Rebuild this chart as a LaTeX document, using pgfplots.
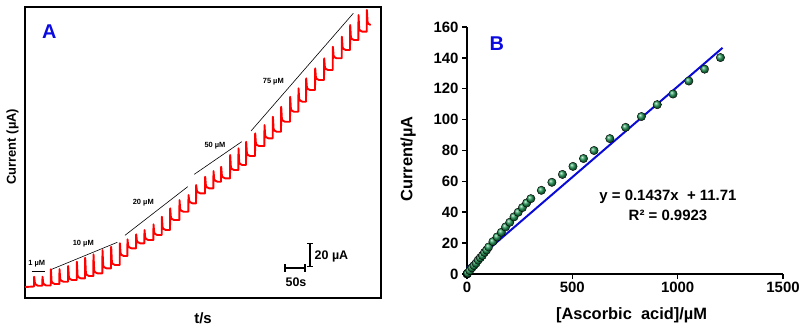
\documentclass[border=0pt]{standalone}
\usepackage{fontspec}
\setmainfont{Liberation Sans}
\usepackage{pgfplots}
\pgfplotsset{compat=1.18}
\definecolor{dotgreen}{RGB}{35,150,85}
\definecolor{fitblue}{RGB}{10,10,215}
\definecolor{labblue}{RGB}{10,10,225}
\begin{document}
\begin{tikzpicture}
\useasboundingbox (0,0) rectangle (802bp,332bp);
% ---------------- Panel A ----------------
\begin{axis}[
  at={(25bp,34.3bp)}, anchor=south west, scale only axis,
  width=356bp, height=291bp,
  xmin=25, xmax=381, ymin=6.7, ymax=297.7, y dir=reverse,
  xtick=\empty, ytick=\empty,
  axis line style={line width=2bp},
  clip=false,
  xlabel={t/s}, ylabel={Current (µA)},
  xlabel style={at={(axis description cs:0.5,-0.07)}, anchor=center, font=\bfseries\fontsize{15}{18}\selectfont},
  ylabel style={at={(axis description cs:-0.035,0.519)}, anchor=center, rotate=0, font=\bfseries\fontsize{13}{15}\selectfont},
]
\addplot[red, line width=1.9bp, line join=round] table {
25 287
33.8 286.5
34 286.5
34.2 276.7
34.9 283.2
36 284.7
38 285.7
42.3 285.7
42.5 276.7
43.2 283
44.3 284.5
46.3 285.5
50.7 285.5
50.9 269.3
51.6 281.5
52.7 283
54.7 284
59.3 284
59.5 269
60.2 279.2
61.3 280.7
63.3 281.7
68 281.7
68.2 266
68.9 277.5
70 279
72 280
76.7 280
76.9 261.7
77.6 275.8
78.7 277.3
80.7 278.3
85 278.3
85.2 257.7
85.9 273.5
87 275
89 276
93.3 276
93.5 254.3
94.2 270.8
95.3 272.3
97.3 273.3
102.3 273.3
102.5 250
103.2 265.8
104.3 267.3
106.3 268.3
111 268.3
111.2 246.7
111.9 262.5
113 264
115 265
119.7 265
119.9 243.3
120.6 253.5
121.7 255
123.7 256
127.3 256
127.5 239.3
128.2 245.8
129.3 247.3
131.3 248.3
136 248.3
136.2 234.3
136.9 240.8
138 242.3
140 243.3
144.3 243.3
144.5 230
145.2 237.5
146.3 239
148.3 240
153.3 240
153.5 224.3
154.2 232.5
155.3 234
157.3 235
161.7 235
161.9 216.7
162.6 227.5
163.7 229
165.7 230
170 230
170.2 208.3
170.9 217.5
172 219
174 220
179.3 220
179.5 200
180.2 209.2
181.3 210.7
183.3 211.7
188.3 211.7
188.5 195
189.2 200.8
190.3 202.3
192.3 203.3
196 203.3
196.2 185
196.9 190.8
198 192.3
200 193.3
205 193.3
205.2 176.7
205.9 185.8
207 187.3
209 188.3
213.3 188.3
213.5 171
214.2 179.2
215.3 180.7
217.3 181.7
221 181.7
221.2 166.7
221.9 175.8
223 177.3
225 178.3
230 178.3
230.2 155
230.9 167.5
232 169
234 170
238.3 170
238.5 148.3
239.2 162.5
240.3 164
242.3 165
246 165
246.2 141.7
246.9 153.5
248 155
250 156
255 156
255.2 133.3
255.9 143.5
257 145
259 146
264.3 146
264.5 125
265.2 135.8
266.3 137.3
268.3 138.3
272.7 138.3
272.9 116.7
273.6 129.2
274.7 130.7
276.7 131.7
281 131.7
281.2 106.7
281.9 119.2
283 120.7
285 121.7
290 121.7
290.2 96.7
290.9 109.2
292 110.7
294 111.7
298.3 111.7
298.5 88.3
299.2 99.2
300.3 100.7
302.3 101.7
306 101.7
306.2 78.3
306.9 87.5
308 89
310 90
315 90
315.2 68.3
315.9 77.5
317 79
319 80
324 80
324.2 58.3
324.9 67.5
326 69
328 70
332.7 70
332.9 46.7
333.6 55.8
334.7 57.3
336.7 58.3
341.7 58.3
341.9 36.7
342.6 47.5
343.7 49
345.7 50
350 50
350.2 25
350.9 37.5
352 39
354 40
358.3 40
358.5 15
359.2 29.2
360.3 30.7
362.3 31.7
366.7 31.7
366.9 10
367.6 22.5
368.7 24
370.7 25
};
% trend lines
\draw[black, line width=0.6bp] (axis cs:31.7,271.7) -- (axis cs:45,271.7);
\draw[black, line width=0.6bp] (axis cs:51.7,269.3) -- (axis cs:117.3,242.3);
\draw[black, line width=0.6bp] (axis cs:125,235.3) -- (axis cs:187.7,186.7);
\draw[black, line width=0.6bp] (axis cs:194.3,174.3) -- (axis cs:241.7,141.7);
\draw[black, line width=0.6bp] (axis cs:251,131) -- (axis cs:353.3,13.3);
\begin{scope}[every node/.style={font=\bfseries\fontsize{7.5}{9}\selectfont, inner sep=0pt}]
\node at (axis cs:36.7,263.3) {1 µM};
\node at (axis cs:83.3,243.3) {10 µM};
\node at (axis cs:143.3,202.3) {20 µM};
\node at (axis cs:215,146) {50 µM};
\node at (axis cs:273.3,81.7) {75 µM};
\end{scope}
\node[font=\bfseries\fontsize{20}{24}\selectfont, text=labblue, inner sep=0pt] at (axis cs:49.3,31.7) {A};
% scale bars
\draw[black, line width=1.8bp] (axis cs:310,243.3) -- (axis cs:310,266.7);
\draw[black, line width=1.5bp] (axis cs:307.3,243.3) -- (axis cs:312.7,243.3);
\draw[black, line width=1.5bp] (axis cs:307.3,266.7) -- (axis cs:312.7,266.7);
\draw[black, line width=1.8bp] (axis cs:285,268.3) -- (axis cs:305,268.3);
\draw[black, line width=1.5bp] (axis cs:285,264.3) -- (axis cs:285,272.3);
\draw[black, line width=1.5bp] (axis cs:305,264.3) -- (axis cs:305,272.3);
\node[anchor=west, inner sep=0pt, font=\bfseries\fontsize{12.5}{14}\selectfont] at (axis cs:314.5,256) {20 µA};
\node[inner sep=0pt, font=\bfseries\fontsize{12.5}{15}\selectfont] at (axis cs:296,282) {50s};
\end{axis}
% ---------------- Panel B ----------------
\begin{axis}[
  at={(467bp,58bp)}, anchor=south west, scale only axis,
  width=316bp, height=247bp,
  xmin=0, xmax=1500, ymin=0, ymax=160,
  axis lines=left, axis line style={-, line width=2bp},
  xtick={0,500,1000,1500}, ytick={0,20,...,160},
  tick align=outside, major tick length=5bp,
  tick style={black, line width=1.5bp},
  scaled x ticks=false,
  /pgf/number format/assume math mode=true,
  /pgf/number format/set thousands separator={},
  tick label style={font=\bfseries\fontsize{15}{18}\selectfont},
  clip=false,
  xlabel={[Ascorbic\ \ acid]/µM}, ylabel={Current/µA},
  xlabel style={at={(axis description cs:0.521,-0.166)}, anchor=center, font=\bfseries\fontsize{16.5}{19}\selectfont},
  ylabel style={at={(axis description cs:-0.186,0.466)}, anchor=center, font=\bfseries\fontsize{16.5}{19}\selectfont},
]
\addplot[only marks, mark=ball, mark size=4.2bp, mark options={ball color=dotgreen}] table {
0 0
1 0.2
2 0.4
3 0.6
13 2.2
23 4
33 5.5
43 7
53 9
63 10.5
73 12
83 14
93 15.5
103 17.5
123 21
143 24
163 27
183 30.5
203 33.5
223 37
243 40
263 43
283 46
303 48.8
353 54.2
403 59.4
453 64.5
503 69.7
553 74.8
603 80
678 87.7
753 95
828 102
903 109.7
978 116.6
1053 125
1128 132.7
1203 140.2
};
\addplot[fitblue, line width=2bp] coordinates {(0,4) (1213,146.5)};
\node[font=\bfseries\fontsize{15}{18}\selectfont, inner sep=0pt] at (axis cs:954,50) {y = 0.1437x\ \ + 11.71};
\node[font=\bfseries\fontsize{15}{18}\selectfont, inner sep=0pt] at (axis cs:954,38.2) {R² = 0.9923};
\node[font=\bfseries\fontsize{20}{24}\selectfont, text=labblue, inner sep=0pt] at (axis cs:141,149.4) {B};
\end{axis}
\end{tikzpicture}
\end{document}
